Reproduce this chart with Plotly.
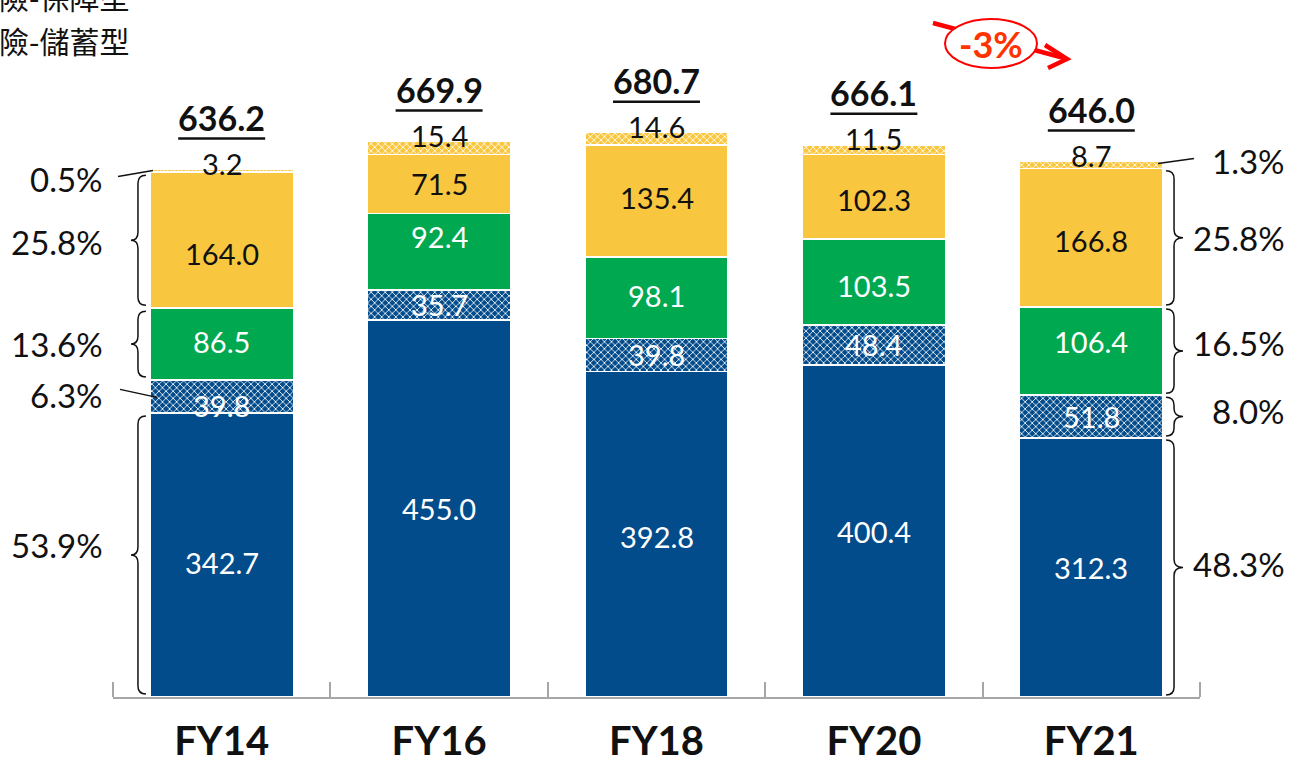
import plotly.graph_objects as go

# ---------------- data ----------------
categories = ["FY14", "FY16", "FY18", "FY20", "FY21"]
s_blue = [342.7, 455.0, 392.8, 400.4, 312.3]        # dark blue solid
s_blue_hatch = [39.8, 35.7, 39.8, 48.4, 51.8]        # dark blue hatched
s_green = [86.5, 92.4, 98.1, 103.5, 106.4]           # green
s_yellow = [164.0, 71.5, 135.4, 102.3, 166.8]        # yellow solid
s_yellow_hatch = [3.2, 15.4, 14.6, 11.5, 8.7]        # yellow hatched
totals = [636.2, 669.9, 680.7, 666.1, 646.0]
# share labels (bottom -> top order: blue, blue hatch, green, yellow, yellow hatch)
left_share = ["53.9%", "6.3%", "13.6%", "25.8%", "0.5%"]    # FY14
right_share = ["48.3%", "8.0%", "16.5%", "25.8%", "1.3%"]   # FY21
change_label = "-3%"
legend_lines = ["傳統險-保障型", "傳統險-儲蓄型"]

# ---------------- styling ----------------
BLUE = "#034C8C"
GREEN = "#00A84F"
YELLOW = "#F9C73F"
FONT = "Lato"
CJK = "Noto Sans CJK TC"

W, H = 1293, 765
ML, MR, MT, MB = 113, 93, 20, 68
plot_w = W - ML - MR
plot_h = H - MT - MB
YMAX = 816.6
ux = 5.0 / plot_w            # data units per pixel, x
uy = YMAX / plot_h           # data units per pixel, y
BW = 0.66
x = list(range(len(categories)))

# label pixel offsets (downwards) per bar/segment, as placed in the original
label_dy = [
    [8, 9, -3, 13],
    [0, 0, -15, 0],
    [2, 0, -2, -3],
    [0, 0, 3, 3],
    [0, 0, -10, 3],
]


def xp(xd):                  # data x -> paper x
    return (xd + 0.5) / 5.0


def yp(yd):                  # data y -> paper y
    return yd / YMAX


def px(xpix):                # pixel x -> paper x
    return (xpix - ML) / plot_w


def py(ypix):                # pixel y -> paper y
    return (H - MB - ypix) / plot_h


fig = go.Figure()

series = [
    (s_blue, BLUE, None, "white"),
    (s_blue_hatch, BLUE, "x", "white"),
    (s_green, GREEN, None, "white"),
    (s_yellow, YELLOW, None, "#111111"),
    (s_yellow_hatch, YELLOW, "x", "#111111"),
]
for i, (vals, col, pat, tcol) in enumerate(series):
    marker = dict(color=col, line=dict(color="white", width=1.5))
    if pat:
        marker["pattern"] = dict(shape=pat, fgcolor="white", bgcolor=col,
                                 size=5, solidity=0.3, fillmode="replace")
    fig.add_trace(go.Bar(
        x=x, y=vals, width=BW, marker=marker,
        showlegend=False, hoverinfo="skip",
    ))

annotations = []
shapes = []

# cumulative bounds
stack = [s_blue, s_blue_hatch, s_green, s_yellow, s_yellow_hatch]
bounds = []
for j in range(len(categories)):
    b = [0.0]
    for s in stack:
        b.append(b[-1] + s[j])
    bounds.append(b)

# in-bar value labels
for j in range(len(categories)):
    for k in range(4):
        lo, hi = bounds[j][k], bounds[j][k + 1]
        annotations.append(dict(x=x[j], y=(lo + hi) / 2, xref="x", yref="y",
                                text=f"{stack[k][j]:.1f}", showarrow=False,
                                yanchor="middle", yshift=-label_dy[j][k],
                                font=dict(family=FONT, size=29, color=series[k][3])))

# small top-segment labels and totals
for j in range(len(categories)):
    top = bounds[j][-1]
    annotations.append(dict(x=x[j], y=top, xref="x", yref="y", text=f"{s_yellow_hatch[j]:.1f}",
                            showarrow=False, yanchor="middle", yshift=6,
                            font=dict(family=FONT, size=29, color="#111111")))
    annotations.append(dict(x=x[j], y=top, xref="x", yref="y", text=f"<b>{totals[j]:.1f}</b>",
                            showarrow=False, yanchor="middle", yshift=52,
                            font=dict(family=FONT, size=34, color="#111111")))
    shapes.append(dict(type="line", xref="x", yref="y",
                       x0=x[j] - 0.2, x1=x[j] + 0.2,
                       y0=top + 31 * uy, y1=top + 31 * uy,
                       line=dict(color="#111111", width=2.5)))


def brace(xe, xm, xt, ybot, ytop):
    ymid = (ybot + ytop) / 2
    r = min(8 * uy, (ytop - ybot) / 4)
    return (f"M {xe},{ytop} Q {xm},{ytop} {xm},{ytop - r} "
            f"L {xm},{ymid + r} Q {xm},{ymid} {xt},{ymid} "
            f"Q {xm},{ymid} {xm},{ymid - r} "
            f"L {xm},{ybot + r} Q {xm},{ybot} {xe},{ybot}")


PCT_FONT = dict(family=FONT, size=33, color="#111111")

# ---- left side (FY14) ----
j = 0
edge = x[j] - BW / 2
lx = xp(-0.5 - 8 * ux)
inset = 3 * uy
for k, yshift in [(0, 10), (2, 0), (3, -2)]:
    lo, hi = bounds[j][k], bounds[j][k + 1]
    shapes.append(dict(type="path", xref="x", yref="y",
                       path=brace(edge - 4 * ux, edge - 12 * ux, edge - 19 * ux, lo + inset, hi - inset),
                       line=dict(color="#111111", width=1.5)))
    annotations.append(dict(x=lx, y=yp((lo + hi) / 2), xref="paper", yref="paper", text=left_share[k],
                            showarrow=False, xanchor="right", yanchor="middle", yshift=yshift,
                            font=PCT_FONT))
# 6.3% leader
lo, hi = bounds[j][1], bounds[j][2]
mid = (lo + hi) / 2
shapes.append(dict(type="line", xref="x", yref="y", x0=-0.5 + 7 * ux, x1=edge + 7 * ux,
                   y0=mid + 7 * uy, y1=mid - 1 * uy, line=dict(color="#111111", width=1.5)))
annotations.append(dict(x=lx, y=yp(mid), xref="paper", yref="paper", text=left_share[1], showarrow=False,
                        xanchor="right", yanchor="middle", yshift=1, font=PCT_FONT))
# 0.5% leader
top = bounds[j][-1]
shapes.append(dict(type="line", xref="x", yref="y", x0=-0.5 + 5 * ux, x1=edge + 3 * ux,
                   y0=top - 7 * uy, y1=top - 1 * uy, line=dict(color="#111111", width=1.5)))
annotations.append(dict(x=lx, y=yp(top - 9 * uy), xref="paper", yref="paper", text=left_share[4],
                        showarrow=False, xanchor="right", yanchor="middle", font=PCT_FONT))

# ---- right side (FY21) ----
j = 4
edge = x[j] + BW / 2
rx = xp(4.5 + 87 * ux)
inset = 2 * uy
for k, yshift in [(0, 4), (1, 6), (2, 8), (3, 0)]:
    lo, hi = bounds[j][k], bounds[j][k + 1]
    shapes.append(dict(type="path", xref="x", yref="y",
                       path=brace(edge + 3 * ux, edge + 11 * ux, edge + 20 * ux, lo + inset, hi - inset),
                       line=dict(color="#111111", width=1.5)))
    annotations.append(dict(x=rx, y=yp((lo + hi) / 2), xref="paper", yref="paper", text=right_share[k],
                            showarrow=False, xanchor="right", yanchor="middle", yshift=yshift,
                            font=PCT_FONT))
top = bounds[j][-1]
shapes.append(dict(type="line", xref="x", yref="y", x0=edge - 5 * ux, x1=edge + 31 * ux,
                   y0=top - 2 * uy, y1=top + 3 * uy, line=dict(color="#111111", width=1.5)))
annotations.append(dict(x=rx, y=yp(top), xref="paper", yref="paper", text=right_share[4], showarrow=False,
                        xanchor="right", yanchor="middle", font=PCT_FONT))

# ---- change marker (-3%) ----
RED = "#FF0000"
shapes.append(dict(type="line", xref="paper", yref="paper", x0=px(933), y0=py(23), x1=px(1064), y1=py(58),
                   line=dict(color=RED, width=4.5)))
shapes.append(dict(type="path", xref="paper", yref="paper",
                   path=f"M {px(1045)},{py(45)} L {px(1067)},{py(59)} L {px(1048)},{py(68)}",
                   line=dict(color=RED, width=4.5)))
shapes.append(dict(type="circle", xref="paper", yref="paper", x0=px(945), x1=px(1037), y0=py(68), y1=py(19),
                   fillcolor="white", line=dict(color=RED, width=2)))
annotations.append(dict(x=px(991), y=py(44), xref="paper", yref="paper", text=f"<b>{change_label}</b>",
                        showarrow=False, xanchor="center", yanchor="middle",
                        font=dict(family=FONT, size=36, color="#FF3300")))

# ---- legend remnant (cut off at top-left, as in the original) ----
for i, t in enumerate(legend_lines):
    annotations.append(dict(x=px(131), y=py(-4 + 44 * i), xref="paper", yref="paper", text=t,
                            showarrow=False, xanchor="right", yanchor="middle",
                            font=dict(family=CJK, size=30, color="#111111")))

fig.update_layout(
    width=W, height=H,
    margin=dict(l=ML, r=MR, t=MT, b=MB, autoexpand=False),
    paper_bgcolor="white", plot_bgcolor="white",
    barmode="stack",
    shapes=shapes, annotations=annotations,
    xaxis=dict(range=[-0.5, 4.5], tickvals=x, ticktext=[f"<b>{c}</b>" for c in categories],
               tickfont=dict(family=FONT, size=40, color="#111111"), ticks="",
               showline=True, linecolor="#A6A6A6", linewidth=2, showgrid=False, zeroline=False,
               ticklabelstandoff=8, automargin=False,
               minor=dict(tickvals=[-0.5, 0.5, 1.5, 2.5, 3.5, 4.5], ticks="inside", ticklen=15,
                          tickcolor="#A6A6A6", tickwidth=2, showgrid=False),
               fixedrange=True),
    yaxis=dict(range=[0, YMAX], visible=False, fixedrange=True, automargin=False),
)

fig.write_html("out.html", config={"displayModeBar": False},
               post_script="document.body.style.margin='0px';")
